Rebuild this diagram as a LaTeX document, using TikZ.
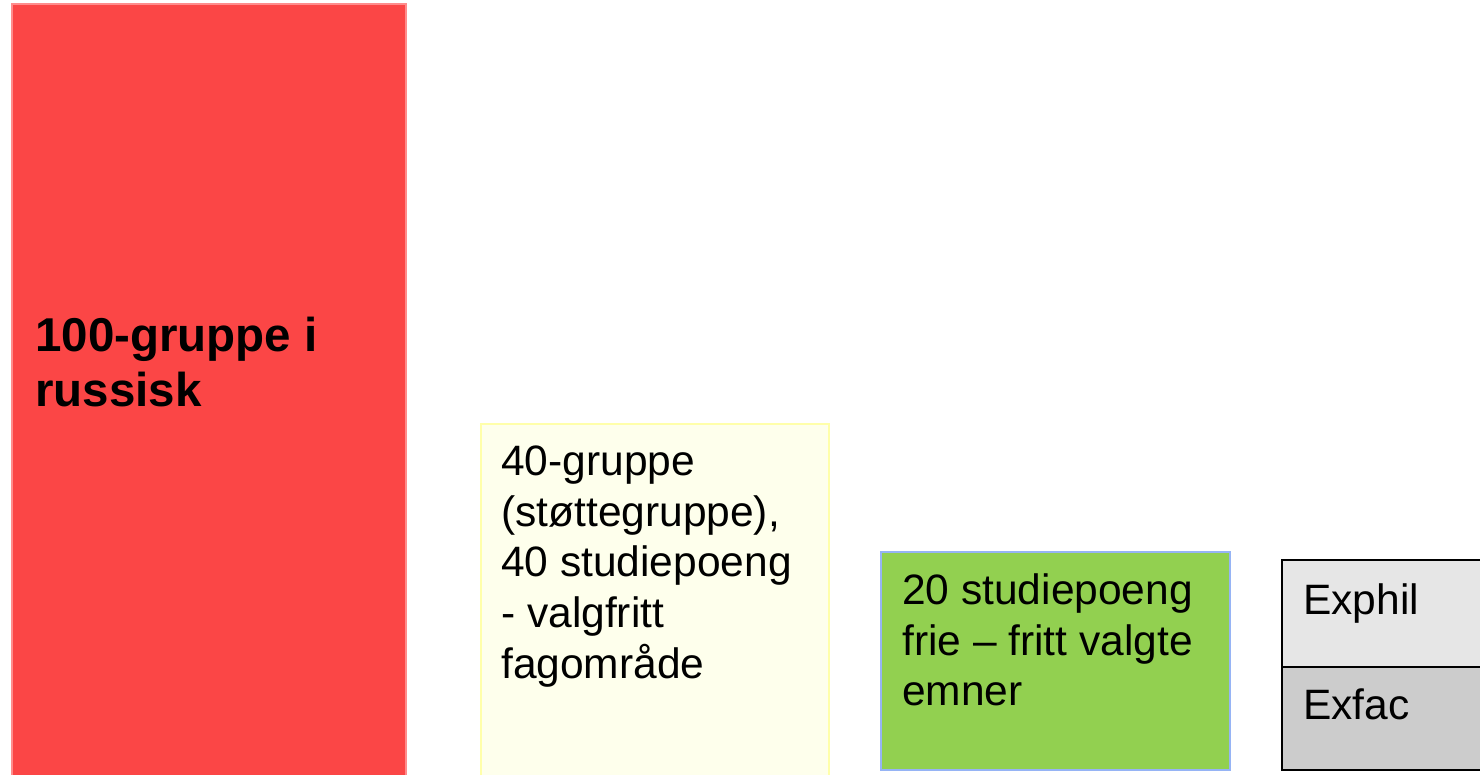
\documentclass[tikz,border=0pt]{standalone}
\usepackage{fontspec}
\setmainfont{Liberation Sans}
\definecolor{redfill}{RGB}{251,70,70}
\definecolor{redline}{RGB}{255,140,140}
\definecolor{yelfill}{RGB}{254,255,236}
\definecolor{yelline}{RGB}{255,255,170}
\definecolor{grnfill}{RGB}{146,208,80}
\definecolor{grnline}{RGB}{150,180,245}
\definecolor{gryA}{RGB}{230,230,230}
\definecolor{gryB}{RGB}{204,204,204}
\tikzset{
  block/.style={anchor=north west, inner sep=0pt, outer sep=0pt, line width=1.5pt},
  plain/.style={anchor=north west, inner sep=0pt, align=left,
    font=\fontsize{42.5}{50.8}\selectfont},
  boldtxt/.style={anchor=north west, inner sep=0pt, align=left,
    font=\fontsize{47.5}{55.5}\selectfont\bfseries},
}
\newcommand{\topstrut}{\rule{0pt}{40pt}}
\begin{document}
\begin{tikzpicture}[x=1pt,y=-1pt]
\useasboundingbox (0,0) rectangle (1480,774);
\clip (0,0) rectangle (1480,774);
% boxes
\node[block, draw=redline, fill=redfill, minimum width=394pt, minimum height=790pt] (red) at (12,4) {};
\node[block, draw=yelline, fill=yelfill, minimum width=348pt, minimum height=370pt] (yel) at (481,424) {};
\node[block, draw=grnline, fill=grnfill, minimum width=349pt, minimum height=218pt] (grn) at (881,552) {};
\node[block, draw=black, line width=2pt, fill=gryA, minimum width=220pt, minimum height=107pt] (exphil) at (1282,560) {};
\node[block, draw=black, line width=2pt, fill=gryB, minimum width=220pt, minimum height=103pt] (exfac) at (exphil.south west) {};
% texts (top of node = first baseline - 40pt)
\node[boldtxt] (redtxt) at (35,311) {\topstrut 100-gruppe i\\russisk};
\node[plain] (yeltxt) at (501,435) {\topstrut 40-gruppe\\(støttegruppe),\\40 studiepoeng\\- valgfritt\\fagområde};
\node[plain] (grntxt) at (902,564) {\topstrut 20 studiepoeng\\frie – fritt valgte\\emner};
\node[plain] (exphiltxt) at (1303,574) {\topstrut Exphil};
\node[plain] (exfactxt) at (1303,679) {\topstrut Exfac};
\end{tikzpicture}
\end{document}
